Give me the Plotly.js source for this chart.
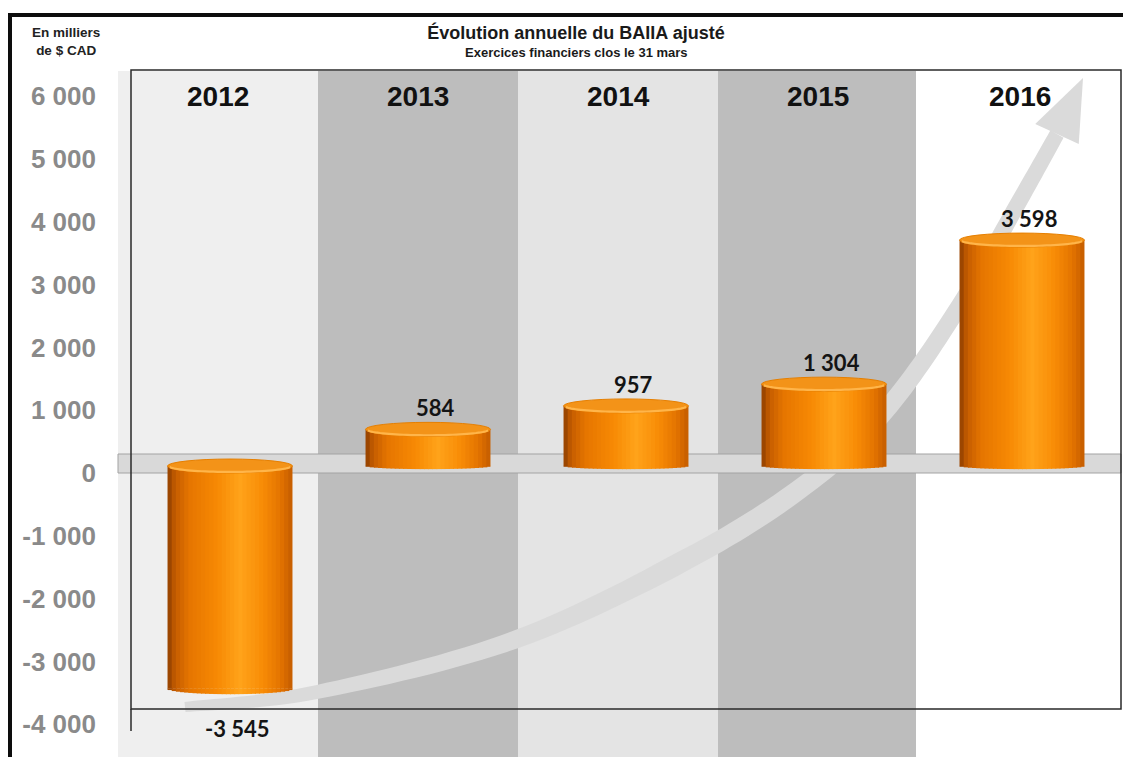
<!DOCTYPE html>
<html>
<head>
<meta charset="utf-8">
<script src="https://cdn.plot.ly/plotly-3.0.1.min.js"></script>
<style>html,body{margin:0;padding:0;background:#fff;}#chart{width:1123px;height:757px;}</style>
</head>
<body>
<div id="chart"></div>
<script>
// ---- data ----
const categories = ['2012', '2013', '2014', '2015', '2016'];
const baiia = [-3545, 584, 957, 1304, 3598];
const yTickValues = [-4000, -3000, -2000, -1000, 0, 1000, 2000, 3000, 4000, 5000, 6000];
const titleText = 'Évolution annuelle du BAIIA ajusté';
const subtitleText = 'Exercices financiers clos le 31 mars';
const unitText = 'En milliers<br>de $ CAD';

// ---- helpers ----
function fmt(v) {
  const s = Math.abs(v).toString().replace(/\B(?=(\d{3})+(?!\d))/g, ' ');
  return (v < 0 ? '-' : '') + s;
}
const W = 1123, H = 757, L = 118, R = 5, T = 70, B = 0;
const PW = W - L - R, PH = H - T - B;
const pxX = px => (px - L) / PW;
const pxY = py => (H - B - py) / PH;

const xIdx = categories.map((c, i) => i);
const BW = 0.631;         // bar width in category units
const RY = 111;           // cap half-height in data units
const N = 30;             // shading strips

const stops = [
  [0.00, [140, 62, 0]],
  [0.06, [196, 92, 0]],
  [0.18, [230, 118, 0]],
  [0.40, [247, 138, 4]],
  [0.58, [255, 163, 26]],
  [0.76, [248, 140, 6]],
  [0.90, [228, 116, 0]],
  [1.00, [196, 92, 0]]
];
function shade(t) {
  for (let k = 0; k < stops.length - 1; k++) {
    const a = stops[k], b = stops[k + 1];
    if (t >= a[0] && t <= b[0]) {
      const f = (t - a[0]) / (b[0] - a[0]);
      const c = a[1].map((v, i) => Math.round(v + (b[1][i] - v) * f));
      return 'rgb(' + c.join(',') + ')';
    }
  }
  return 'rgb(196,92,0)';
}

// ---- traces: cylinder body as overlaid strips ----
const traces = [];
for (let j = 0; j < N; j++) {
  const uc = (j + 0.5) / N;
  const w = BW / N * (j < N - 1 ? 1.25 : 1);
  traces.push({
    type: 'bar', x: xIdx, y: baiia,
    offset: -BW / 2 + j * BW / N, width: w,
    marker: {color: shade(uc), line: {width: 0}},
    hoverinfo: 'skip', showlegend: false
  });
}

// ---- shapes ----
const shapes = [];
// background bands
const bandColors = ['#efefef', '#bdbdbd', '#e4e4e4', '#bdbdbd', '#ffffff'];
const bandEdges = [118, 318, 518, 718, 916, 1118];
bandColors.forEach((c, i) => {
  shapes.push({type: 'rect', xref: 'paper', yref: 'paper', layer: 'below',
    x0: pxX(bandEdges[i]), x1: pxX(bandEdges[i + 1]), y0: 0, y1: pxY(71),
    fillcolor: c, line: {width: 0}});
});

// curved trend arrow
const arcPts = [[185,707],[317,692],[517,639],[700,552],[817,476],[890,405],[960,305],[1020,200],[1057,134]];
function catmull(pts, n) {
  const out = [];
  for (let i = 0; i < pts.length - 1; i++) {
    const p0 = pts[Math.max(i - 1, 0)], p1 = pts[i], p2 = pts[i + 1], p3 = pts[Math.min(i + 2, pts.length - 1)];
    for (let s = 0; s < n; s++) {
      const t = s / n, t2 = t * t, t3 = t2 * t;
      out.push([0, 1].map(k => 0.5 * ((2 * p1[k]) + (-p0[k] + p2[k]) * t + (2 * p0[k] - 5 * p1[k] + 4 * p2[k] - p3[k]) * t2 + (-p0[k] + 3 * p1[k] - 3 * p2[k] + p3[k]) * t3)));
    }
  }
  out.push(pts[pts.length - 1]);
  return out;
}
const cl = catmull(arcPts, 16);
const left = [], right = [];
cl.forEach((p, i) => {
  const a = cl[Math.max(i - 1, 0)], b = cl[Math.min(i + 1, cl.length - 1)];
  let dx = b[0] - a[0], dy = b[1] - a[1];
  const len = Math.hypot(dx, dy) || 1; dx /= len; dy /= len;
  const s = i / (cl.length - 1);
  const hw = s < 0.35 ? 5 + (s / 0.35) * 5.5 : 10.5 - (s - 0.35) / 0.65 * 3;
  left.push([p[0] - dy * hw, p[1] + dx * hw]);
  right.push([p[0] + dy * hw, p[1] - dx * hw]);
});
const poly = left.concat(right.reverse());
let arcPath = 'M' + poly.map(p => pxX(p[0]).toFixed(5) + ',' + pxY(p[1]).toFixed(5)).join('L') + 'Z';
shapes.push({type: 'path', xref: 'paper', yref: 'paper', layer: 'below', path: arcPath,
  fillcolor: '#dadada', line: {width: 0}});
// arrow head
const tip = [1083, 78], hb = arcPts[arcPts.length - 1];
let ddx = tip[0] - hb[0], ddy = tip[1] - hb[1];
const dl = Math.hypot(ddx, ddy); ddx /= dl; ddy /= dl;
const perp = [-ddy, ddx];
const w1 = [hb[0] + perp[0] * 24, hb[1] + perp[1] * 24], w2 = [hb[0] - perp[0] * 24, hb[1] - perp[1] * 24];
const headPath = 'M' + [tip, w1, w2].map(p => pxX(p[0]).toFixed(5) + ',' + pxY(p[1]).toFixed(5)).join('L') + 'Z';
shapes.push({type: 'path', xref: 'paper', yref: 'paper', layer: 'below', path: headPath,
  fillcolor: '#dadada', line: {width: 0}});

// floor band
shapes.push({type: 'rect', xref: 'paper', yref: 'paper', layer: 'below',
  x0: pxX(118), x1: pxX(1121), y0: pxY(473), y1: pxY(454),
  fillcolor: '#d9d9d9', line: {color: '#a3a3a3', width: 1}});

// plot frame
shapes.push({type: 'rect', xref: 'paper', yref: 'paper', layer: 'above',
  x0: pxX(131), x1: pxX(1121), y0: pxY(709), y1: pxY(70),
  line: {color: '#2a2a2a', width: 1.5}});
shapes.push({type: 'line', xref: 'paper', yref: 'paper', layer: 'above',
  x0: pxX(131), x1: pxX(131), y0: pxY(709), y1: pxY(731),
  line: {color: '#2a2a2a', width: 1.5}});

// bottoms of cylinders (rounded lower edge)
baiia.forEach((v, i) => {
  const base = Math.min(0, v);
  const depthScale = v >= 0 ? 0.45 : 0.8;
  for (let j = 0; j < N; j++) {
    const uc = (j + 0.5) / N, u = 2 * uc - 1;
    const depth = RY * depthScale * Math.sqrt(Math.max(0, 1 - u * u));
    const x0 = i - BW / 2 + j * BW / N;
    shapes.push({type: 'rect', xref: 'x', yref: 'y', layer: 'above',
      x0: x0, x1: x0 + BW / N * (j < N - 1 ? 1.25 : 1), y0: base - depth, y1: base + 2,
      fillcolor: shade(uc), line: {width: 0}});
  }
});
// tops of cylinders (cap ellipse + bright rim)
baiia.forEach((v, i) => {
  const top = Math.max(0, v);
  shapes.push({type: 'circle', xref: 'x', yref: 'y', layer: 'above',
    x0: i - BW / 2, x1: i + BW / 2, y0: top - RY, y1: top + RY,
    fillcolor: '#f39318', line: {color: '#e67f00', width: 1}});
  const pts = [];
  for (let k = 0; k <= 40; k++) {
    const a = Math.PI * (0.06 + 0.88 * k / 40);
    pts.push([i - Math.cos(a) * BW / 2 * 0.98, top - Math.sin(a) * RY * 0.85]);
  }
  shapes.push({type: 'path', xref: 'x', yref: 'y', layer: 'above',
    path: 'M' + pts.map(p => p[0].toFixed(4) + ',' + p[1].toFixed(1)).join('L'),
    line: {color: '#ffb54a', width: 2.2}});
});

// outer page frame
shapes.push({type: 'line', xref: 'paper', yref: 'paper', layer: 'above',
  x0: pxX(8), x1: pxX(1125), y0: pxY(15), y1: pxY(15), line: {color: '#0d0d0d', width: 4}});
shapes.push({type: 'line', xref: 'paper', yref: 'paper', layer: 'above',
  x0: pxX(10), x1: pxX(10), y0: pxY(13), y1: pxY(760), line: {color: '#0d0d0d', width: 4}});

// ---- annotations ----
const annotations = [];
annotations.push({xref: 'paper', yref: 'paper', x: pxX(66), y: pxY(42), text: '<b>' + unitText + '</b>',
  showarrow: false, align: 'center', xanchor: 'center', yanchor: 'middle',
  font: {family: 'Liberation Sans, Arial, sans-serif', size: 13.5, color: '#222'}});
annotations.push({xref: 'paper', yref: 'paper', x: pxX(576), y: pxY(53), text: '<b>' + subtitleText + '</b>',
  showarrow: false, xanchor: 'center', yanchor: 'middle',
  font: {family: 'Liberation Sans, Arial, sans-serif', size: 13, color: '#1a1a1a'}});
categories.forEach((c, i) => {
  annotations.push({xref: 'paper', yref: 'paper', x: (i + 0.5) / categories.length + (i === 4 ? 0.002 : 0),
    y: pxY(97), text: '<b>' + c + '</b>', showarrow: false, xanchor: 'center', yanchor: 'middle',
    font: {family: 'Liberation Sans, Arial, sans-serif', size: 28, color: '#111'}});
});
baiia.forEach((v, i) => {
  annotations.push({xref: 'x', yref: 'y', x: i, y: v, text: '<b>' + fmt(v) + '</b>', showarrow: false,
    xanchor: 'center', yanchor: v >= 0 ? 'bottom' : 'top', xshift: 7, yshift: v >= 0 ? 6 : -24,
    font: {family: 'Lato, Open Sans, sans-serif', size: 22, color: '#141414'}});
});

const layout = {
  width: W, height: H,
  margin: {l: L, r: R, t: T, b: B, pad: 0},
  paper_bgcolor: '#ffffff', plot_bgcolor: 'rgba(0,0,0,0)',
  barmode: 'overlay', showlegend: false,
  title: {
    text: '<b>' + titleText + '</b>',
    x: 576 / W, xanchor: 'center',
    y: 1 - 33 / H, yref: 'container', yanchor: 'middle',
    font: {family: 'Liberation Sans, Arial, sans-serif', size: 18, color: '#1a1a1a'}
  },
  xaxis: {range: [(118 - 230) / 198, (1118 - 230) / 198], showticklabels: false, showgrid: false,
    zeroline: false, showline: false, ticks: '', fixedrange: true},
  yaxis: {range: [-(757 - 466) / 0.0628, (466 - 70) / 0.0628], tickvals: yTickValues,
    ticktext: yTickValues.map(fmt), showgrid: false, zeroline: false, showline: false, ticks: '',
    ticklabelstandoff: 21, ticklabelshift: 7,
    tickfont: {family: 'Liberation Sans, Arial, sans-serif', size: 26, color: '#8a8a8a', weight: 'bold'},
    fixedrange: true},
  shapes: shapes,
  annotations: annotations
};

Plotly.newPlot('chart', traces, layout, {displayModeBar: false, staticPlot: true});
</script>
</body>
</html>
